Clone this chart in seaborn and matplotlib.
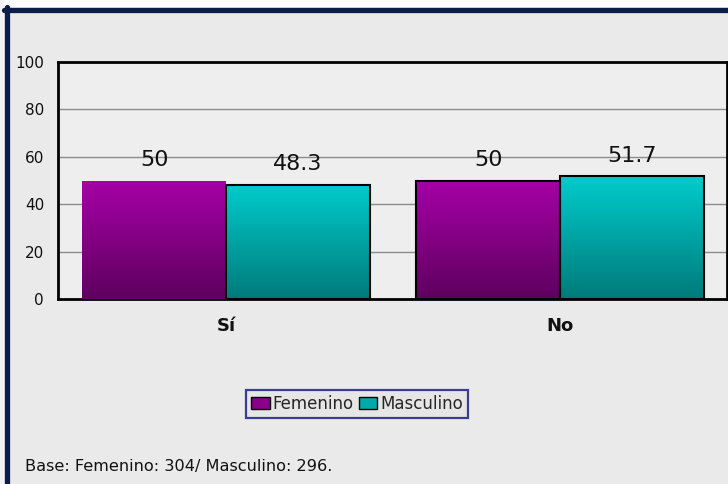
import matplotlib
matplotlib.use("Agg")
import matplotlib.pyplot as plt
import numpy as np
import pandas as pd
import seaborn as sns
from matplotlib.colors import LinearSegmentedColormap
from matplotlib.patches import Rectangle, Patch
from matplotlib.lines import Line2D

# Data
categories = ["Sí", "No"]
series = ["Femenino", "Masculino"]
femenino = [50, 50]
masculino = [48.3, 51.7]
value_labels = ["50", "48.3", "50", "51.7"]
y_ticks = [0, 20, 40, 60, 80, 100]
note = "Base: Femenino: 304/ Masculino: 296."

df = pd.DataFrame({
    "cat": categories * 2,
    "sexo": [series[0]] * 2 + [series[1]] * 2,
    "pct": femenino + masculino,
})

sns.set_style("white")
plt.rcParams["font.family"] = ["DejaVu Sans"]

W, H = 728, 484
fig = plt.figure(figsize=(W / 100, H / 100), dpi=100)
fig.patch.set_facecolor("#EAEAEA")

# white strip above the frame and navy frame lines
fig.add_artist(Rectangle((0, 1 - 7 / H), 1, 7 / H, transform=fig.transFigure,
                         facecolor="white", edgecolor="none"))
fig.add_artist(Rectangle((0, 0), 4 / W, 1, transform=fig.transFigure,
                         facecolor="#F2F2F2", edgecolor="none"))
fig.add_artist(Line2D([4 / W, 1], [1 - 9.5 / H, 1 - 9.5 / H], transform=fig.transFigure,
                      color="#0B1E4A", lw=3.8))
fig.add_artist(Line2D([6.5 / W, 6.5 / W], [0, 1 - 7 / H], transform=fig.transFigure,
                      color="#0B1E4A", lw=3.8))

ax = fig.add_axes([58 / W, 1 - 299 / H, 669 / W, 237 / H])
ax.set_facecolor("#EEEEEE")

palette = {"Femenino": "#8A008A", "Masculino": "#00AAAA"}
sns.barplot(data=df, x="cat", y="pct", hue="sexo", order=categories,
            hue_order=series, palette=palette, width=0.86, ax=ax,
            saturation=1, legend=False, zorder=3)

ax.set_xlim(-0.503, 1.5)
ax.set_ylim(0, 100)
ax.set_yticks(y_ticks)
ax.set_yticklabels([str(t) for t in y_ticks], fontsize=11, color="#111111")
ax.tick_params(axis="y", length=0, pad=10)
ax.tick_params(axis="x", length=0, pad=13)
ax.set_xticks([0, 1])
ax.set_xticklabels(categories, fontsize=13, fontweight="bold", color="#111111")
ax.set_xlabel("")
ax.set_ylabel("")
for t in y_ticks[1:-1]:
    ax.axhline(t, color="#8C8C8C", lw=1, zorder=1)
for s in ax.spines.values():
    s.set_color("black")
    s.set_linewidth(2)

grads = {
    "Femenino": LinearSegmentedColormap.from_list("f", ["#5E005E", "#A600A6"]),
    "Masculino": LinearSegmentedColormap.from_list("m", ["#007A7A", "#00CCCC"]),
}
grad = np.linspace(0, 1, 256).reshape(-1, 1)
bars = list(ax.patches)
order = [(s, c) for s in series for c in categories]
for p, (s, c) in zip(bars, order):
    x0, y0 = p.get_x(), p.get_y()
    w, h = p.get_width(), p.get_height()
    im = ax.imshow(grad, cmap=grads[s], extent=[x0, x0 + w, y0, y0 + h],
                   origin="lower", aspect="auto", zorder=3.5)
    im.set_clip_path(p)
    p.set_facecolor("none")
    if s == "Femenino" and c == "Sí":
        p.set_edgecolor("none")
    else:
        p.set_edgecolor("black")
        p.set_linewidth(1.5)
    p.set_zorder(4)
    ax.text(x0 + w / 2, y0 + h + 4.5, value_labels[categories.index(c) * 2 + series.index(s)],
            ha="center", va="bottom", fontsize=16, fontweight="medium",
            color="#111111", zorder=5)
ax.set_xlim(-0.503, 1.5)
ax.set_ylim(0, 100)

handles = [Patch(facecolor="#8A008A", edgecolor="black", label="Femenino"),
           Patch(facecolor="#00AAAA", edgecolor="black", label="Masculino")]
leg = fig.legend(handles=handles, loc="center", bbox_to_anchor=(357 / W, 1 - 404 / H),
                 ncol=2, fontsize=12, frameon=True, fancybox=False,
                 handlelength=1.1, handleheight=0.75, handletextpad=0.15,
                 columnspacing=0.35, borderpad=0.3)
leg.get_frame().set_edgecolor("#10107A")
leg.get_frame().set_linewidth(1.6)
leg.get_frame().set_facecolor("#E6E6E6")

fig.text(25 / W, 1 - 467 / H, note, fontsize=11.6, color="#111111", va="center", ha="left")

fig.savefig("out.png", dpi=100, facecolor=fig.get_facecolor())
